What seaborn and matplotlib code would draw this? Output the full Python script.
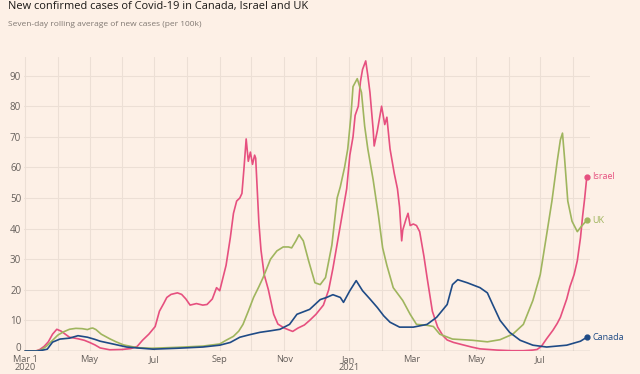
import matplotlib
matplotlib.use("Agg")
import matplotlib.pyplot as plt
import matplotlib.dates as mdates
import matplotlib.transforms as mtransforms
import seaborn as sns
import pandas as pd

# days since 2020-03-01, seven-day average cases per 100k
START = "2020-03-01"

israel_day = [0, 10, 14, 18, 22, 26, 30, 34, 38, 42, 50, 56, 61, 66, 71, 80, 92, 100, 106, 111,
              117, 123, 127, 131, 134, 138, 144, 148, 152, 156, 162, 168, 172, 177, 181, 184, 190,
              194, 197, 200, 203, 205, 207, 209, 211, 213, 215, 217, 218, 219, 221, 223, 226, 230,
              235, 239, 245, 250, 253, 258, 264, 269, 275, 282, 287, 291, 295, 300, 304, 307, 310,
              312, 315, 317, 319, 322, 324, 326, 329, 330, 333, 335, 337, 340, 342, 345, 349, 352,
              354, 356, 357, 360, 362, 364, 367, 370, 373, 377, 380, 385, 390, 395, 399, 405, 414,
              422, 430, 446, 460, 471, 480, 484, 488, 493, 499, 503, 506, 512, 515, 519, 522, 525,
              527, 529, 531]
israel_val = [0, 0, 0.5, 1.5, 3, 5.5, 7.1, 6.5, 5.5, 4.5, 4, 3.5, 2.8, 2, 1, 0.4, 0.5, 0.8, 1.5, 3.5,
              5.5, 8, 13, 15.5, 17.5, 18.5, 19, 18.5, 17, 15, 15.5, 15, 15.2, 17, 20.7, 19.7, 28,
              37, 45, 49, 50, 51.5, 60, 69.3, 62, 65, 61, 64, 63, 56, 42, 33, 25, 20,
              12, 8.8, 7.5, 6.8, 6.4, 7.5, 8.5, 10, 12, 15, 20, 27, 35, 45, 53, 64, 70,
              77, 80, 88, 92, 94.8, 90, 84.5, 72.5, 67, 72, 76, 80, 74, 76.4, 66, 58, 53,
              47, 36, 39.5, 43, 45, 41, 41.5, 41, 39, 31, 24, 13, 7.8, 5, 3.6, 2.8, 2,
              1.3, 0.7, 0.3, 0.1, 0.1, 0.3, 0.5, 1.5, 4, 6.8, 9, 11, 17, 21, 25, 29.5, 37,
              44, 50, 57]

uk_day = [0, 10, 15, 20, 26, 31, 36, 42, 48, 54, 59, 62, 64, 67, 72, 80, 86, 93, 100, 106, 120,
          144, 168, 184, 190, 197, 202, 206, 211, 216, 221, 225, 232, 238, 244, 249, 252, 256, 259,
          263, 268, 274, 279, 284, 290, 295, 298, 302, 305, 308, 310, 314, 318, 321, 324, 329, 334,
          338, 342, 348, 357, 364, 370, 380, 386, 392, 404, 423, 437, 449, 461, 471, 480, 487, 493,
          498, 503, 506, 508, 510, 513, 517, 522, 526, 531]
uk_val = [0, 0, 0.3, 1.5, 3.5, 5.2, 6.2, 7.1, 7.4, 7.3, 7, 7.4, 7.5, 7, 5.5, 4, 3, 2, 1.5, 1.1, 0.9,
          1.2, 1.6, 2.3, 3.5, 4.8, 6.5, 8.7, 13, 17.5, 21, 24, 30, 32.7, 34, 34, 33.7, 36, 38,
          36, 29.5, 22.3, 21.7, 24, 34.6, 50, 53.7, 60, 66, 76.7, 86.4, 89, 84.5, 73.5, 66, 56, 44.3,
          33.7, 28, 20.7, 16.5, 12, 8.7, 8.4, 8, 5.5, 3.9, 3.5, 3, 3.7, 5.5, 8.7, 16.5, 25, 38,
          49, 62, 69, 71.2, 62.8, 49, 42.4, 39, 40.8, 42.7]

canada_day = [0, 12, 17, 21, 26, 33, 42, 50, 59, 66, 71, 83, 96, 106, 121, 144, 168, 184, 194, 203,
              212, 222, 232, 241, 250, 257, 263, 269, 279, 285, 291, 298, 301, 307, 313, 319, 326,
              333, 339, 345, 354, 367, 380, 389, 399, 404, 409, 418, 430, 437, 442, 449, 458, 468,
              480, 493, 512, 525, 531]
canada_val = [0, 0, 0.3, 0.6, 2.9, 3.9, 4.2, 5, 4.5, 3.8, 3.2, 2.3, 1.3, 1, 0.6, 0.9, 1.3, 1.9, 2.8, 4.5,
              5.3, 6.1, 6.6, 7.1, 8.7, 12, 12.8, 13.6, 16.8, 17.5, 18.4, 17.5, 15.9, 19.7, 23, 19.7, 17,
              14.2, 11.5, 9.4, 7.8, 7.8, 8.7, 11, 15.2, 21.7, 23.3, 22.3, 20.7, 19, 15.2, 10, 6.1, 3.5,
              1.9, 1.3, 1.9, 3.2, 4.5]

countries = ["Israel", "UK", "Canada"]
colors = {"Israel": "#e6507f", "UK": "#9fb55e", "Canada": "#1f4b86"}
tick_labels = ["Mar 1\n2020", "May", "Jul", "Sep", "Nov", "Jan\n2021", "Mar", "May", "Jul"]

frames = []
for name, days, vals in [("Israel", israel_day, israel_val),
                         ("UK", uk_day, uk_val),
                         ("Canada", canada_day, canada_val)]:
    d = pd.DataFrame({"day": days, "cases": vals})
    d["date"] = pd.Timestamp(START) + pd.to_timedelta(d["day"], unit="D")
    d["country"] = name
    frames.append(d)
df = pd.concat(frames, ignore_index=True)

bg = "#fdf0e6"
sns.set_theme(style="white", rc={"figure.facecolor": bg, "axes.facecolor": bg})
plt.rcParams["font.family"] = ["Open Sans", "DejaVu Sans"]

fig = plt.figure(figsize=(6.4, 3.74), dpi=100)
ax = fig.add_axes([24 / 640, 23 / 374, 566 / 640, 96 * 3.06 / 374])

sns.lineplot(data=df, x="date", y="cases", hue="country", palette=colors,
             hue_order=countries, linewidth=1.2, legend=False, ax=ax)

# end points and labels
for name in countries:
    last = df[df["country"] == name].iloc[-1]
    ax.plot(last["date"], last["cases"], "o", color=colors[name], markersize=3.5)
    ax.annotate(name, xy=(last["date"], last["cases"]), xytext=(4, 0),
                textcoords="offset points", va="center", ha="left",
                fontsize=6.5, color=colors[name])

ax.set_xlim(pd.Timestamp("2020-02-29"), pd.Timestamp("2021-08-17"))
ax.set_ylim(0, 96)
ax.set_yticks(range(0, 100, 10))

ax.xaxis.set_minor_locator(mdates.MonthLocator())
ax.set_xticks(pd.date_range("2020-03-01", "2021-07-01", freq="2MS"))
ax.set_xticklabels(tick_labels, linespacing=0.85)

ax.grid(True, which="both", color="#ecdfd5", linewidth=0.8)
ax.set_axisbelow(True)
ax.axhline(0, color="#a9a19a", linewidth=0.9, zorder=1)
for s in ax.spines.values():
    s.set_visible(False)
ax.tick_params(axis="both", length=0, labelsize=7, colors="#66605c")
ax.tick_params(axis="x", labelsize=6.7, pad=3)
ax.tick_params(axis="y", pad=2)
ax.set_xlabel("")
ax.set_ylabel("")

# lift the "0" label a little so it clears "Mar 1"
zero_lab = ax.get_yticklabels()[0]
zero_lab.set_transform(zero_lab.get_transform() +
                       mtransforms.ScaledTranslation(0, 3 / 72, fig.dpi_scale_trans))

fig.text(8 / 640, 1 - 7 / 374, "New confirmed cases of Covid-19 in Canada, Israel and UK",
         fontsize=7.9, color="#1a1816", va="center", ha="left")
fig.text(8 / 640, 1 - 25 / 374, "Seven-day rolling average of new cases (per 100k)",
         fontsize=6, color="#807872", va="center", ha="left")

fig.savefig("out.png", dpi=100, facecolor=bg)
